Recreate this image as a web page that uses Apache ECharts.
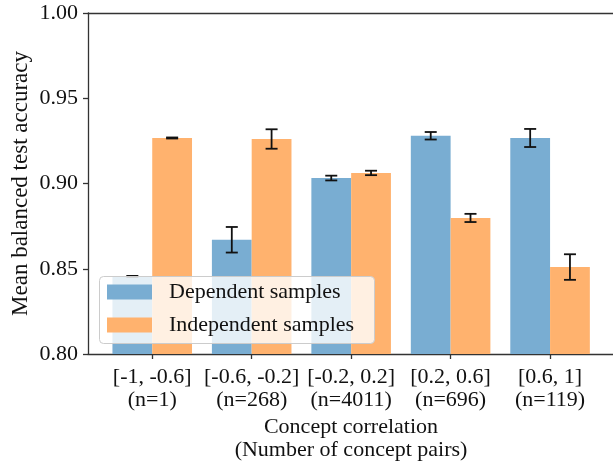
<!DOCTYPE html>
<html>
<head>
<meta charset="utf-8">
<script src="https://cdn.jsdelivr.net/npm/echarts@6/dist/echarts.min.js"></script>
<style>html,body{margin:0;padding:0;background:#fff}#c{width:613px;height:463px}</style>
</head>
<body>
<div id="c"></div>
<script>
const ranges = ['[-1, -0.6]', '[-0.6, -0.2]', '[-0.2, 0.2]', '[0.2, 0.6]', '[0.6, 1]'];
const counts = [1, 268, 4011, 696, 119];
const dependent = [0.8455, 0.867, 0.9032, 0.928, 0.9267];
const dependentErr = [0.0003, 0.0075, 0.0014, 0.0022, 0.0053];
const independent = [0.9267, 0.9261, 0.9062, 0.8798, 0.851];
const independentErr = [0.0003, 0.0057, 0.0013, 0.0024, 0.0075];
const yTicks = [0.80, 0.85, 0.90, 0.95, 1.00];

const categories = ranges.map((r, i) => r + '\n(n=' + counts[i] + ')');
const FONT = 'Liberation Serif';
const FS = 22;
const AX = '#333333';
const BLUE = '#79add2', ORANGE = '#ffb26e';

const errData = [];
dependent.forEach((v, i) => errData.push([i, v, dependentErr[i], -1]));
independent.forEach((v, i) => errData.push([i, v, independentErr[i], 1]));

const chart = echarts.init(document.getElementById('c'), null, {renderer: 'canvas'});
chart.setOption({
  animation: false,
  backgroundColor: '#fff',
  textStyle: {fontFamily: FONT},
  grid: [
    {left: 88, top: 13, width: 526, height: 341, containLabel: false, outerBoundsMode: 'none'},
    {left: 102.5, top: 13, width: 497.3, height: 341, containLabel: false, outerBoundsMode: 'none'}
  ],
  xAxis: [
    {type: 'value', gridIndex: 0, min: 0, max: 1, position: 'bottom',
     axisLine: {show: true, lineStyle: {color: AX, width: 1.3}},
     axisTick: {show: false}, axisLabel: {show: false}, splitLine: {show: false},
     name: 'Concept correlation\n(Number of concept pairs)', nameLocation: 'middle', nameGap: 62,
     nameMoveOverlap: false,
     nameTextStyle: {fontFamily: FONT, fontSize: FS, lineHeight: 23, color: '#111'}},
    {type: 'value', gridIndex: 0, min: 0, max: 1, position: 'top',
     axisLine: {show: true, lineStyle: {color: AX, width: 1.3}},
     axisTick: {show: false}, axisLabel: {show: false}, splitLine: {show: false}},
    {type: 'category', gridIndex: 1, data: categories, position: 'bottom',
     axisLine: {show: false},
     axisTick: {show: true, alignWithLabel: true, length: 5, lineStyle: {color: AX, width: 1.3}},
     axisLabel: {interval: 0, fontFamily: FONT, fontSize: FS, lineHeight: 23, margin: 12, color: '#111'}}
  ],
  yAxis: [
    {type: 'value', gridIndex: 0, min: 0.8, max: 1.0, interval: 0.05,
     axisLine: {show: true, lineStyle: {color: AX, width: 1.3}},
     axisTick: {show: true, length: 5, lineStyle: {color: AX, width: 1.3}},
     axisLabel: {fontFamily: FONT, fontSize: FS, margin: 10, color: '#111',
       formatter: v => { const t = yTicks.find(k => Math.abs(k - v) < 1e-6); return t === undefined ? '' : t.toFixed(2); }},
     splitLine: {show: false},
     name: 'Mean balanced test accuracy', nameLocation: 'middle', nameRotate: 90, nameGap: 56,
     nameMoveOverlap: false,
     nameTextStyle: {fontFamily: FONT, fontSize: 23, color: '#111'}},
    {type: 'value', gridIndex: 1, min: 0.8, max: 1.0, show: false}
  ],
  legend: {
    left: 107, top: 281, orient: 'vertical', itemWidth: 45, itemHeight: 15, itemGap: 11, padding: 0,
    icon: 'rect', z: 20,
    data: ['Dependent samples', 'Independent samples'],
    textStyle: {fontFamily: FONT, fontSize: FS, lineHeight: 15, color: '#111', padding: [0, 0, 0, 12]}
  },
  graphic: [
    {type: 'rect', left: 99, top: 276, z: 10,
     shape: {width: 275, height: 67, r: 4},
     style: {fill: 'rgba(255,255,255,0.8)', stroke: '#cccccc', lineWidth: 1}}
  ],
  series: [
    {name: 'Dependent samples', type: 'bar', xAxisIndex: 2, yAxisIndex: 1, data: dependent,
     barWidth: '40%', barGap: '0%', itemStyle: {color: BLUE}},
    {name: 'Independent samples', type: 'bar', xAxisIndex: 2, yAxisIndex: 1, data: independent,
     barWidth: '40%', barGap: '0%', itemStyle: {color: ORANGE}},
    {type: 'custom', xAxisIndex: 2, yAxisIndex: 1, z: 3, data: errData,
     encode: {x: 0, y: 1},
     renderItem: function (params, api) {
       const i = api.value(0), v = api.value(1), e = api.value(2), side = api.value(3);
       const band = api.size([1, 0])[0];
       const c = api.coord([i, v]);
       const x = c[0] + side * 0.2 * band;
       const top = api.coord([i, v + e])[1], bot = api.coord([i, v - e])[1];
       const cap = 6;
       const st = {stroke: '#111', lineWidth: 1.8};
       return {type: 'group', children: [
         {type: 'line', shape: {x1: x, y1: top, x2: x, y2: bot}, style: st},
         {type: 'line', shape: {x1: x - cap, y1: top, x2: x + cap, y2: top}, style: st},
         {type: 'line', shape: {x1: x - cap, y1: bot, x2: x + cap, y2: bot}, style: st}
       ]};
     }}
  ]
});
</script>
</body>
</html>
